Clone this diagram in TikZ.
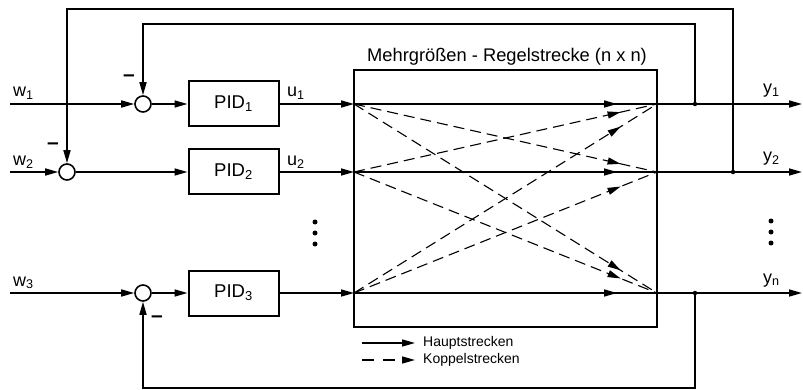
\documentclass[tikz,border=0pt]{standalone}
\usepackage{fontspec}
\setmainfont{Liberation Sans}
\usetikzlibrary{arrows.meta,decorations.markings}
\tikzset{
  ln/.style={line width=1.6pt},
  tip/.tip={Triangle[length=13pt,width=7pt]},
  arr/.style={ln,-tip},
  sumj/.style={circle,draw,line width=1.6pt,minimum size=16pt,inner sep=0pt,fill=white},
  pid/.style={draw,line width=2pt,minimum width=90pt,minimum height=45pt,inner sep=0pt,font=\fontsize{18.5}{20}\selectfont},
  lbl/.style={font=\fontsize{18}{20}\selectfont,inner sep=0pt},
  minus/.style={font=\fontsize{21}{22}\selectfont\bfseries,inner sep=0pt},
  jdot/.style={circle,fill,inner sep=0pt,minimum size=4.5pt},
  vdot/.style={circle,fill,inner sep=0pt,minimum size=5pt},
  mainln/.style={ln,postaction={decorate},decoration={markings,mark=at position 0.868 with {\arrow{tip}}}},
  coup/.style={line width=1.1pt,dash pattern=on 11pt off 6pt,postaction={decorate},decoration={markings,mark=at position 0.88 with {\arrow{tip}}}},
  legtxt/.style={font=\fontsize{14}{16}\selectfont,inner sep=0pt,anchor=west},
}
\begin{document}
\begin{tikzpicture}[x=1pt,y=-1pt]
\useasboundingbox (0,0) rectangle (803,390);
% plant
\node[draw,line width=2.2pt,minimum width=303pt,minimum height=257pt,inner sep=0pt] (plant) at (505.5,198.5) {};
\node[font=\fontsize{18.3}{21}\selectfont,anchor=base,inner sep=0pt] (title) at (507,62) {Mehrgrößen - Regelstrecke (n x n)};
\coordinate (L1) at (354,104); \coordinate (R1) at (657,104);
\coordinate (L2) at (354,172); \coordinate (R2) at (657,172);
\coordinate (L3) at (354,293); \coordinate (R3) at (657,293);
% inputs / outputs
\coordinate (W1) at (10,104); \coordinate (W2) at (10,172); \coordinate (W3) at (10,293);
\coordinate (Y1) at (802,104); \coordinate (Y2) at (802,172); \coordinate (Y3) at (802,293);
% summing junctions
\node[sumj] (S1) at (143,104) {};
\node[sumj] (S2) at (67,172) {};
\node[sumj] (S3) at (143,293) {};
% PIDs
\node[pid] (P1) at (233.5,104) {PID\textsubscript{1}};
\node[pid] (P2) at (233.5,172) {PID\textsubscript{2}};
\node[pid] (P3) at (233.5,293) {PID\textsubscript{3}};
% junction dots
\node[jdot] (J1) at (695,104) {};
\node[jdot] (J2) at (733,172) {};
\node[jdot] (J3) at (695,293) {};
% forward paths
\draw[arr] (W1) -- (S1);
\draw[arr] (S1) -- (P1);
\draw[arr] (P1) -- (L1);
\draw[arr] (W2) -- (S2);
\draw[arr] (S2) -- (P2);
\draw[arr] (P2) -- (L2);
\draw[arr] (W3) -- (S3);
\draw[arr] (S3) -- (P3);
\draw[arr] (P3) -- (L3);
% main paths inside plant
\draw[mainln] (L1) -- (R1);
\draw[mainln] (L2) -- (R2);
\draw[mainln] (L3) -- (R3);
\draw[arr] (R1) -- (Y1);
\draw[arr] (R2) -- (Y2);
\draw[arr] (R3) -- (Y3);
% coupling paths
\draw[coup] (L1) -- (R2);
\draw[coup] (L1) -- (R3);
\draw[coup] (L2) -- (R1);
\draw[coup] (L2) -- (R3);
\draw[coup] (L3) -- (R1);
\draw[coup] (L3) -- (R2);
% feedback
\draw[arr] (J1.center) -- (J1 |- 0,24) -| (S1);
\draw[arr] (J2.center) -- (J2 |- 0,9) -| (S2);
\draw[arr] (J3.center) -- (J3 |- 0,388) -| (S3);
% minus signs
\node[minus] (m1) at (129,78) {–};
\node[minus] (m2) at (53,146) {–};
\node[minus] (m3) at (157,319) {–};
% labels
\node[lbl,anchor=base west] (w1) at (13,97) {w\textsubscript{1}};
\node[lbl,anchor=base west] (w2) at (13,166) {w\textsubscript{2}};
\node[lbl,anchor=base west] (w3) at (13,286) {w\textsubscript{3}};
\node[lbl,anchor=base west] (u1) at (287,97) {u\textsubscript{1}};
\node[lbl,anchor=base west] (u2) at (287,166) {u\textsubscript{2}};
\node[lbl,anchor=base west] (y1) at (763,94) {y\textsubscript{1}};
\node[lbl,anchor=base west] (y2) at (763,162) {y\textsubscript{2}};
\node[lbl,anchor=base west] (y3) at (763,283) {y\textsubscript{n}};
% vertical dots
\node[vdot] (d1) at (315,222) {};
\node[vdot] (d2) at (315,233) {};
\node[vdot] (d3) at (315,244) {};
\node[vdot] (e1) at (771,221) {};
\node[vdot] (e2) at (771,232) {};
\node[vdot] (e3) at (771,243) {};
% legend
\coordinate (la) at (362,343); \coordinate (lb) at (415,343);
\coordinate (lc) at (362,360); \coordinate (ld) at (415,360);
\draw[line width=1.4pt,-tip] (la) -- (lb);
\draw[line width=1.4pt,dash pattern=on 12pt off 9pt,-tip] (lc) -- (ld);
\node[legtxt] (h) at (423,343) {Hauptstrecken};
\node[legtxt] (k) at (423,360) {Koppelstrecken};
\end{tikzpicture}
\end{document}
